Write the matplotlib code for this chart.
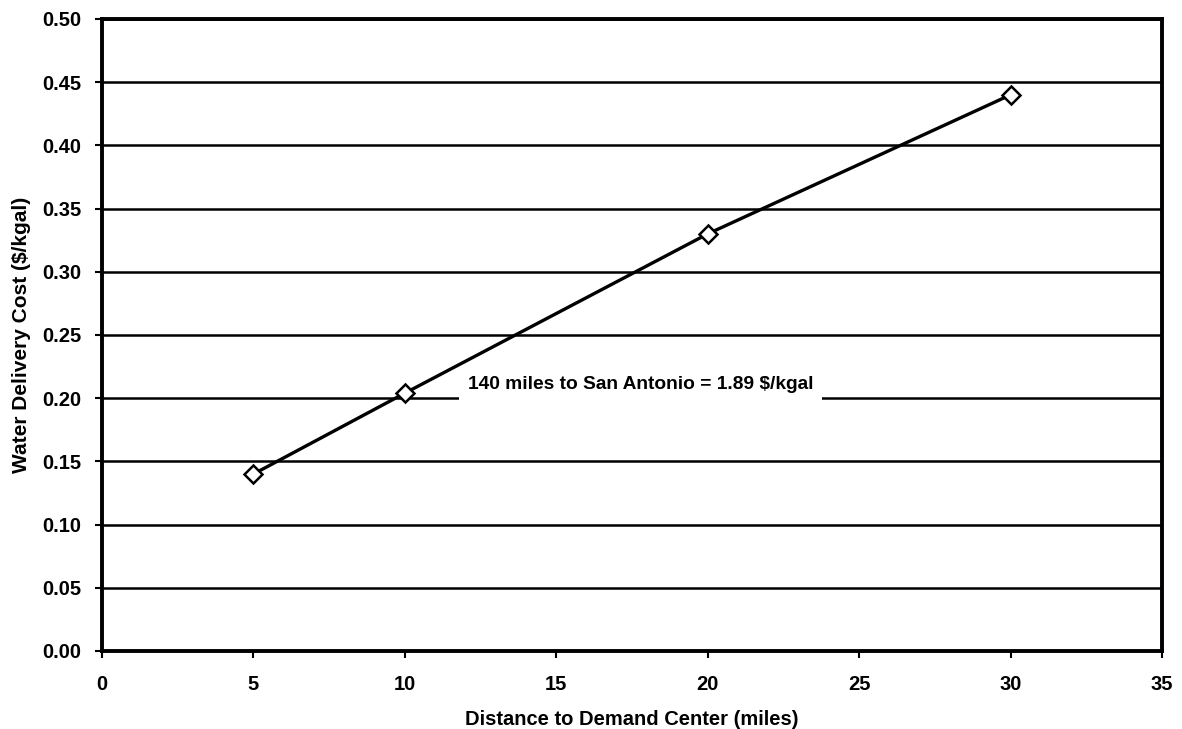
import matplotlib.pyplot as plt

# data
distance = [5, 10, 20, 30]
cost = [0.14, 0.204, 0.330, 0.44]
x_ticks = [0, 5, 10, 15, 20, 25, 30, 35]
y_ticks = [0.00, 0.05, 0.10, 0.15, 0.20, 0.25, 0.30, 0.35, 0.40, 0.45, 0.50]
note = '140 miles to San Antonio = 1.89 $/kgal'

plt.rcParams['font.family'] = ['Liberation Sans', 'DejaVu Sans']
plt.rcParams['font.weight'] = 'bold'

fig = plt.figure(figsize=(11.82, 7.29), dpi=100)
ax = fig.add_axes([102 / 1182, 1 - 651 / 729, 1060 / 1182, 632 / 729])

ax.set_xlim(0, 35)
ax.set_ylim(0, 0.5)
ax.set_xticks(x_ticks)
ax.set_yticks(y_ticks)
ax.set_yticklabels(['%.2f' % v for v in y_ticks])

# horizontal gridlines
ax.grid(axis='y', color='black', linewidth=1.8)
ax.set_axisbelow(True)

ax.plot(distance, cost, color='black', linewidth=2.4, marker='D',
        markersize=9, markerfacecolor='white', markeredgecolor='black',
        markeredgewidth=1.8, zorder=3)

# note sits just above the 0.20 gridline, white box hides the line under it
ax.text(12.08, 0.2112, note, fontsize=13.8, fontweight='bold', va='center',
        ha='left', zorder=4,
        bbox=dict(facecolor='white', edgecolor='none', pad=6.5))

for s in ax.spines.values():
    s.set_linewidth(2.8)

ax.tick_params(direction='out', length=5, width=1.5, labelsize=14.5)
ax.tick_params(axis='x', pad=12)
ax.tick_params(axis='y', pad=10)
for lab in ax.get_xticklabels() + ax.get_yticklabels():
    lab.set_fontweight('bold')

ax.set_xlabel('Distance to Demand Center (miles)', fontsize=14.5,
              fontweight='bold', labelpad=12)
ax.set_ylabel('Water Delivery Cost ($/kgal)', fontsize=15,
              fontweight='bold', labelpad=8)

fig.savefig('out.png', dpi=100)
